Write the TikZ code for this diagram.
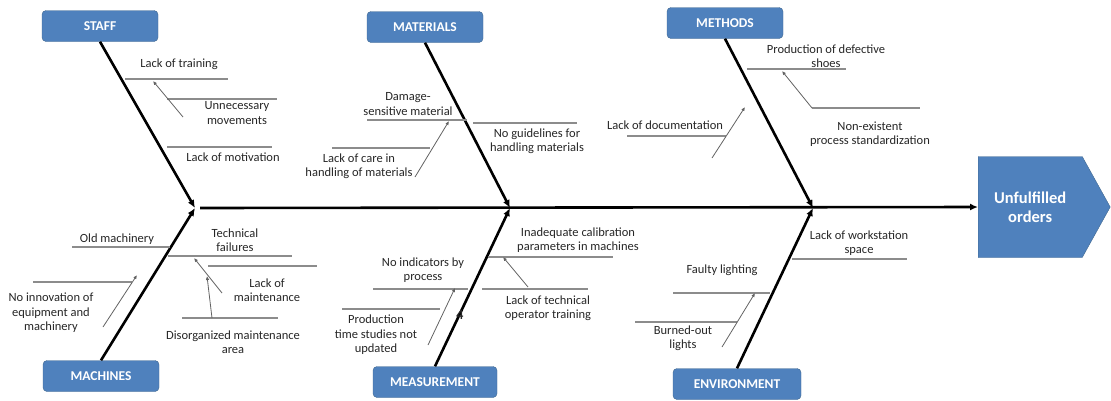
\documentclass[tikz,border=0pt]{standalone}
\usepackage{fontspec}
\setmainfont{Carlito}
\usetikzlibrary{arrows.meta,shapes.symbols}
\definecolor{boxblue}{HTML}{4F81BD}
\definecolor{boxedge}{HTML}{41688F}
\definecolor{subgray}{HTML}{8C8C8C}

\begin{document}
\begin{tikzpicture}[x=1pt,y=-1pt,
  cat/.style={draw=boxedge,fill=boxblue,rounded corners=4pt,minimum width=116pt,minimum height=31pt,inner sep=0pt,text=white,font=\fontsize{13.5}{15}\selectfont\bfseries},
  effect/.style={signal,signal to=east,signal pointer angle=122,draw=boxedge,fill=boxblue,minimum width=132pt,minimum height=101pt,inner sep=0pt,align=center,text=white,font=\fontsize{16.5}{19}\selectfont\bfseries},
  bone/.style={line width=2.6pt,-{Latex[length=8pt,width=7pt]}},
  sub/.style={draw=subgray,line width=1.2pt},
  twig/.style={draw=subgray!70!black,line width=0.8pt,-{Latex[length=4pt,width=3.5pt]}},
  lbl/.style={align=center,text=black!85,inner sep=0pt,font=\fontsize{12.5}{14.5}\selectfont}]
  \useasboundingbox (0,0) rectangle (1111,400);

  % Categories and effect
  \node[cat] (staff) at (100,26) {STAFF};
  \node[cat] (mat) at (425,27) {MATERIALS};
  \node[cat] (meth) at (725,23) {METHODS};
  \node[cat] (mach) at (101,376) {MACHINES};
  \node[cat,minimum width=124pt] (meas) at (435,382) {MEASUREMENT};
  \node[cat,minimum width=128pt] (env) at (737,384) {ENVIRONMENT};
  \node[effect,anchor=west] (effect) at (978,207) {Unfulfilled\\orders};

  % Spine and bones
  \coordinate (tail) at (200,208);
  \coordinate (j1) at (195,208);
  \coordinate (j2) at (510,208);
  \coordinate (j3) at (813,208);
  \draw[bone] (tail) -- (effect.west);
  \draw[bone] (staff.south) -- (j1);
  \draw[bone] (mach.north) -- (j1);
  \draw[bone] (mat.south) -- (j2);
  \draw[bone] (meas.north) -- (j2);
  \draw[bone] (meth.south) -- (j3);
  \draw[bone] (env.north) -- (j3);

  % Sub-cause lines
  \foreach \n/\xa/\xb/\y in {1/125/228/79, 2/167/277/99, 3/167/272/147,
      4/72/170/247, 5/33/132/282, 6/168/292/256, 7/208/317/266, 8/182/278/318,
      9/367/467/120, 10/473/577/123, 11/332/430/148,
      12/488/613/257, 13/373/468/289, 14/482/588/289, 15/342/440/309,
      16/747/846/69, 17/812/920/108, 18/627/726/136,
      19/792/907/259, 20/673/770/293, 21/635/737/322} {
    \coordinate (l\n a) at (\xa,\y);
    \coordinate (l\n b) at (\xb,\y);
    \draw[sub] (l\n a) -- (l\n b);
  }

  % Small arrows between causes
  \foreach \n/\xs/\ys/\xe/\ye in {2/183/117/153/81, 5/103/327/137/275,
      7/222/293/194/258, 8/212/318/207/276, 11/415/177/449/121,
      14/528/287/503/257, 15/428/345/455/288, 17/812/108/782/71,
      18/712/158/745/107, 21/722/347/755/293} {
    \coordinate (s\n) at (\xs,\ys);
    \coordinate (e\n) at (\xe,\ye);
    \draw[twig] (s\n) -- (e\n);
  }

  % Labels
  \node[lbl] (t1) at (179,64) {Lack of training};
  \node[lbl] (t2) at (237,113) {Unnecessary\\movements};
  \node[lbl] (t3) at (233,157) {Lack of motivation};
  \node[lbl] (t4) at (117,239) {Old machinery};
  \node[lbl] (t5) at (51,313) {No innovation of\\equipment and\\machinery};
  \node[lbl] (t6) at (235,240) {Technical\\failures};
  \node[lbl] (t7) at (267,290) {Lack of\\maintenance};
  \node[lbl] (t8) at (233,342) {Disorganized maintenance\\area};
  \node[lbl] (t9) at (408,104) {Damage-\\sensitive material};
  \node[lbl] (t10) at (537,141) {No guidelines for\\handling materials};
  \node[lbl] (t11) at (359,166) {Lack of care in\\handling of materials};
  \node[lbl] (t12) at (578,240) {Inadequate calibration\\parameters in machines};
  \node[lbl] (t13) at (423,270) {No indicators by\\process};
  \node[lbl] (t14) at (548,308) {Lack of technical\\operator training};
  \node[lbl] (t15) at (376,335) {Production\\time studies not\\updated};
  \node[lbl,font=\fontsize{14}{16}\selectfont\bfseries] (t0) at (460,315) {4};
  \node[lbl] (t16) at (826,56) {Production of defective\\shoes};
  \node[lbl] (t17) at (870,134) {Non-existent\\process standardization};
  \node[lbl] (t18) at (665,125) {Lack of documentation};
  \node[lbl] (t19) at (859,243) {Lack of workstation\\space};
  \node[lbl] (t20) at (722,270) {Faulty lighting};
  \node[lbl] (t21) at (683,338) {Burned-out\\lights};
\end{tikzpicture}
\end{document}
